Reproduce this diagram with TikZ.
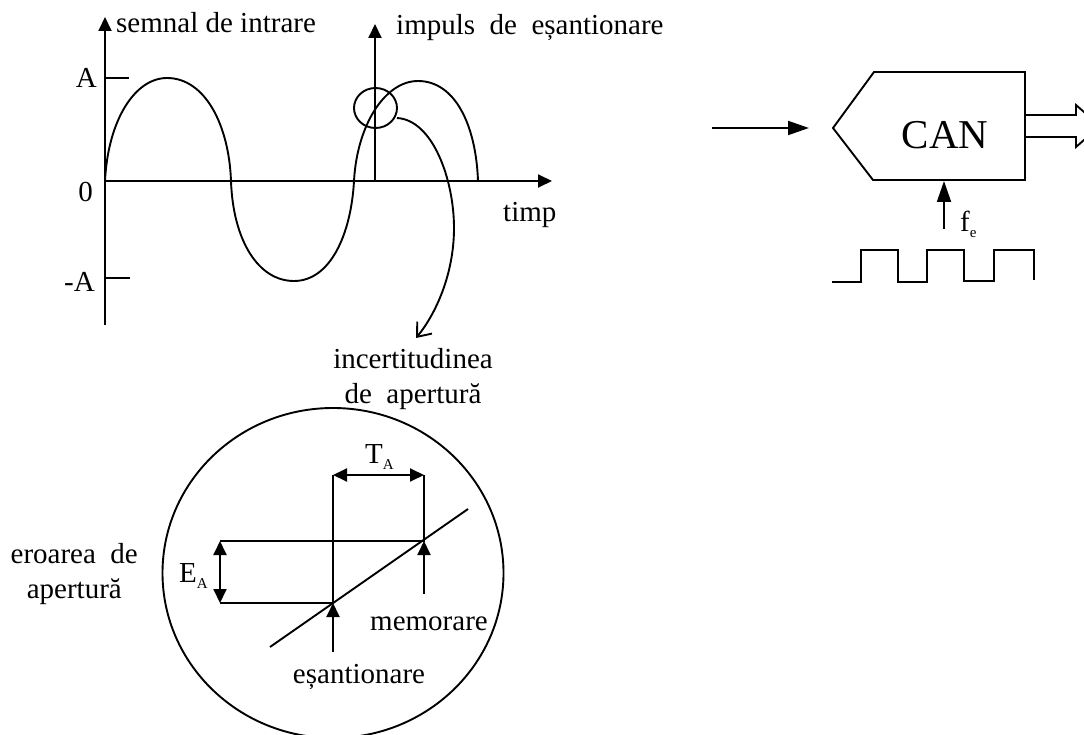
\documentclass[tikz,border=0pt]{standalone}
\usepackage{fontspec}
\setmainfont{Liberation Serif}
\usetikzlibrary{arrows.meta}
\tikzset{
  ln/.style={line width=1.9pt,line join=miter},
  tri/.style={ln,-{Triangle[length=14pt,width=13pt]}},
  tribig/.style={ln,-{Triangle[length=21pt,width=14pt]}},
  tritwo/.style={ln,{Triangle[length=14pt,width=13pt]}-{Triangle[length=14pt,width=13pt]}},
  lbl/.style={inner sep=0pt,font=\fontsize{29}{32}\selectfont},
  lblr/.style={lbl,anchor=base east},
  lbll/.style={lbl,anchor=base west},
  lblc/.style={lbl,anchor=base},
}
\newcommand{\subt}[1]{\raisebox{-6pt}{\fontsize{15}{16}\selectfont #1}}
\begin{document}
\begin{tikzpicture}[x=1pt,y=-1pt]
\useasboundingbox (0,0) rectangle (1084,735);
% main axes
\coordinate (o) at (105,181);
\coordinate (ytop) at (105,17);
\coordinate (ybot) at (105,325);
\coordinate (xend) at (552,181);
\coordinate (atick) at (129,78);
\coordinate (atick0) at (105,78);
\coordinate (mtick) at (130,278);
\coordinate (mtick0) at (105,278);
\coordinate (imp0) at (375,181);
\coordinate (imptop) at (375,24);
\draw[ln] (ybot) -- (o);
\draw[tri] (o) -- (ytop);
\draw[tri] (o) -- (xend);
\draw[ln] (atick0) -- (atick);
\draw[ln] (mtick0) -- (mtick);
\draw[tri] (imp0) -- (imptop);
% signal
\draw[ln] (o) .. controls (108,120) and (135,78) .. (167,78)
  .. controls (205,78) and (229,125) .. (231,181)
  .. controls (233,240) and (258,281) .. (294,281)
  .. controls (330,281) and (351,235) .. (354,181)
  .. controls (357,125) and (385,81) .. (418,81)
  .. controls (455,81) and (476,125) .. (478,181);
% aperture circle and curved arrow
\draw[ln] (375.5,108) ellipse (21.5 and 20);
\coordinate (cs) at (397,118);
\coordinate (ce) at (416,338);
\draw[ln,-{Straight Barb[length=12pt,width=19pt]}] (cs) .. controls (433,120) and (454,180) .. (454,228) .. controls (454,275) and (435,315) .. (ce);
% labels top
\node[lblr] (la) at (97,88) {A};
\node[lblr] (lo) at (93,202) {0};
\node[lblr] (lma) at (95,292) {-A};
\node[lbll] (ls) at (116,33) {semnal de intrare};
\node[lbll] (li) at (396,35) {impuls\ \ de\ \ eșantionare};
\node[lbll] (lt) at (503,222) {timp};
\node[lblc] (l1) at (413,368) {incertitudinea};
\node[lblc] (l2) at (413,403) {de\ \ apertură};
% CAN
\coordinate (in0) at (712,128);
\coordinate (in1) at (809,128);
\draw[tribig] (in0) -- (in1);
\coordinate (p1) at (833,128);
\coordinate (p2) at (874,72);
\coordinate (p3) at (1025,72);
\coordinate (p4) at (1025,180);
\coordinate (p5) at (873,180);
\draw[ln] (p1) -- (p2) -- (p3) -- (p4) -- (p5) -- cycle;
\node[lbl,font=\fontsize{41}{44}\selectfont] (can) at (945,135) {CAN};
\draw[ln] (1025,115) -- (1076,115) -- (1076,105) -- (1100,126) -- (1076,147) -- (1076,137) -- (1025,137);
\coordinate (f0) at (944,229);
\coordinate (f1) at (944,181);
\draw[tribig] (f0) -- (f1);
\node[lbll] (fc) at (960,232) {f\subt{e}};
\draw[ln] (832,282) -- (861,282) -- (861,250) -- (898,250) -- (898,282) -- (927,282) -- (927,250) -- (964,250) -- (964,281) -- (994,281) -- (994,250) -- (1034,250) -- (1034,280);
% magnified circle
\draw[ln] (333,573) ellipse (170.5 and 165);
\coordinate (tl) at (333,475);
\coordinate (tr) at (424,475);
\coordinate (bl) at (333,603);
\coordinate (br) at (424,541);
\coordinate (el) at (220,541);
\coordinate (ell) at (220,603);
\draw[ln] (tl) -- (bl) -- (ell);
\draw[ln] (tr) -- (br) -- (el);
\draw[tritwo] (tl) -- (tr);
\draw[tritwo] (el) -- (ell);
\coordinate (s0) at (270,647);
\coordinate (s1) at (468,509);
\draw[ln] (s0) -- (s1);
\coordinate (a0) at (333,652);
\coordinate (a1) at (424,594);
\draw[tri] (a0) -- (bl);
\draw[tri] (a1) -- (br);
\node[lbl,anchor=base west] (ta) at (365,463) {T\subt{A}};
\node[lbl,anchor=base west] (ea) at (179,582) {E\subt{A}};
\node[lblc] (mem) at (429,630) {memorare};
\node[lblc] (es) at (359,683) {eșantionare};
\node[lblr] (er1) at (138,563) {eroarea\ \ de};
\node[lblr] (er2) at (122,598) {apertură};
\end{tikzpicture}
\end{document}
